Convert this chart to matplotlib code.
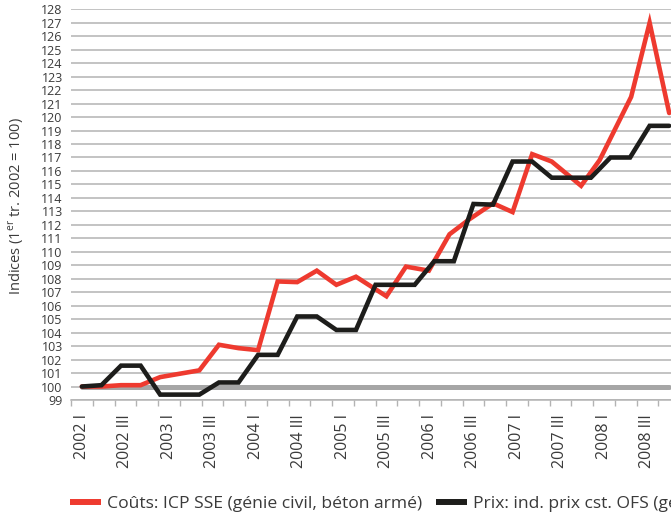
import matplotlib
matplotlib.use('Agg')
import matplotlib.pyplot as plt
from matplotlib.lines import Line2D
import numpy as np

plt.rcParams['font.family'] = ['Open Sans', 'DejaVu Sans']
plt.rcParams['mathtext.fontset'] = 'custom'
plt.rcParams['mathtext.rm'] = 'Open Sans'

# quarters shown on the axis, labels on every second one
quarters = [f'{y} {q}' for y in range(2002, 2009) for q in ['I', 'II', 'III', 'IV']]
tick_labels = quarters[::2]

# costs ICP SSE: period in quarters since 2002 I, index value
red_t = [0, 0.9, 1.8, 2.7, 3.6, 4.5, 5.4, 6.3, 7.2, 8.1, 9.0, 9.9, 10.8, 11.7, 12.6,
         14.0, 14.9, 15.95, 16.9, 17.8, 18.9, 19.8, 20.7, 21.6, 22.95, 23.8, 25.25, 26.1, 27.0]
red_v = [100.0, 100.0, 100.1, 100.1, 100.7, 100.95, 101.2, 103.1, 102.85, 102.7, 107.8, 107.75,
         108.6, 107.55, 108.15, 106.7, 108.9, 108.6, 111.3, 112.4, 113.6, 112.95, 117.25, 116.7,
         114.9, 116.8, 121.5, 127.0, 120.3]

# prices OFS (31 points over the same span)
black_v = [100.0, 100.1, 101.55, 101.55, 99.4, 99.4, 99.4, 100.3, 100.3, 102.35, 102.35,
           105.2, 105.2, 104.2, 104.2, 107.55, 107.55, 107.55, 109.3, 109.3, 113.55, 113.5,
           116.7, 116.7, 115.5, 115.5, 115.5, 117.0, 117.0, 119.35, 119.35]
black_t = np.linspace(0, len(quarters) - 1, len(black_v))
base_v = [100] * len(black_v)

RED = '#ee3a2f'
BLACK = '#1d1d1b'
GRID = '#b3b3b3'
TXT = '#3a3a3a'

fig = plt.figure(figsize=(6.71, 5.17), dpi=100)
ax = fig.add_axes([71 / 671, 117 / 517, 613 / 671, 390.7 / 517])

ax.plot(black_t, base_v, color='#a6a6a6', lw=3.6, solid_capstyle='round', zorder=2)
ax.plot(red_t, red_v, color=RED, lw=3.3, solid_capstyle='round', solid_joinstyle='miter', zorder=3)
ax.plot(black_t, black_v, color=BLACK, lw=3.3, solid_capstyle='round', solid_joinstyle='miter', zorder=4)

ax.set_xlim(-0.44, 27.68)
ax.set_ylim(99, 128)
ax.set_yticks(range(99, 129))
ax.yaxis.grid(True, color=GRID, lw=1.1)
ax.set_axisbelow(True)

ax.set_xticks(range(0, len(quarters), 2))
ax.set_xticklabels(tick_labels, rotation=90)
ax.set_xticks(np.arange(-0.5, len(quarters), 1), minor=True)
ax.tick_params(axis='x', which='major', length=0, pad=10, labelsize=11.5, labelcolor=TXT)
ax.tick_params(axis='x', which='minor', length=4, width=1, color=GRID)
ax.tick_params(axis='y', length=0, pad=6, labelsize=9, labelcolor=TXT)

for s in ['top', 'right', 'left']:
    ax.spines[s].set_visible(False)
ax.spines['bottom'].set_color(GRID)
ax.spines['bottom'].set_linewidth(1.1)

fig.text(16 / 671, 1 - 206 / 517, r'Indices (1$^{\rm er}$ tr. 2002 = 100)', rotation=90,
         ha='center', va='center', fontsize=10.5, color=TXT)

handles = [Line2D([], [], color=RED, lw=4.3, solid_capstyle='butt'),
           Line2D([], [], color=BLACK, lw=4.3, solid_capstyle='butt')]
fig.legend(handles, ['Coûts: ICP SSE (génie civil, béton armé)',
                     'Prix: ind. prix cst. OFS (génie civil)'],
           loc='center left', bbox_to_anchor=(70 / 671, 13 / 517), ncol=2, frameon=False,
           borderpad=0, borderaxespad=0, handlelength=1.75, handletextpad=0.35,
           columnspacing=0.8, fontsize=12.6, labelcolor=TXT)

plt.savefig('out.png', dpi=100)
